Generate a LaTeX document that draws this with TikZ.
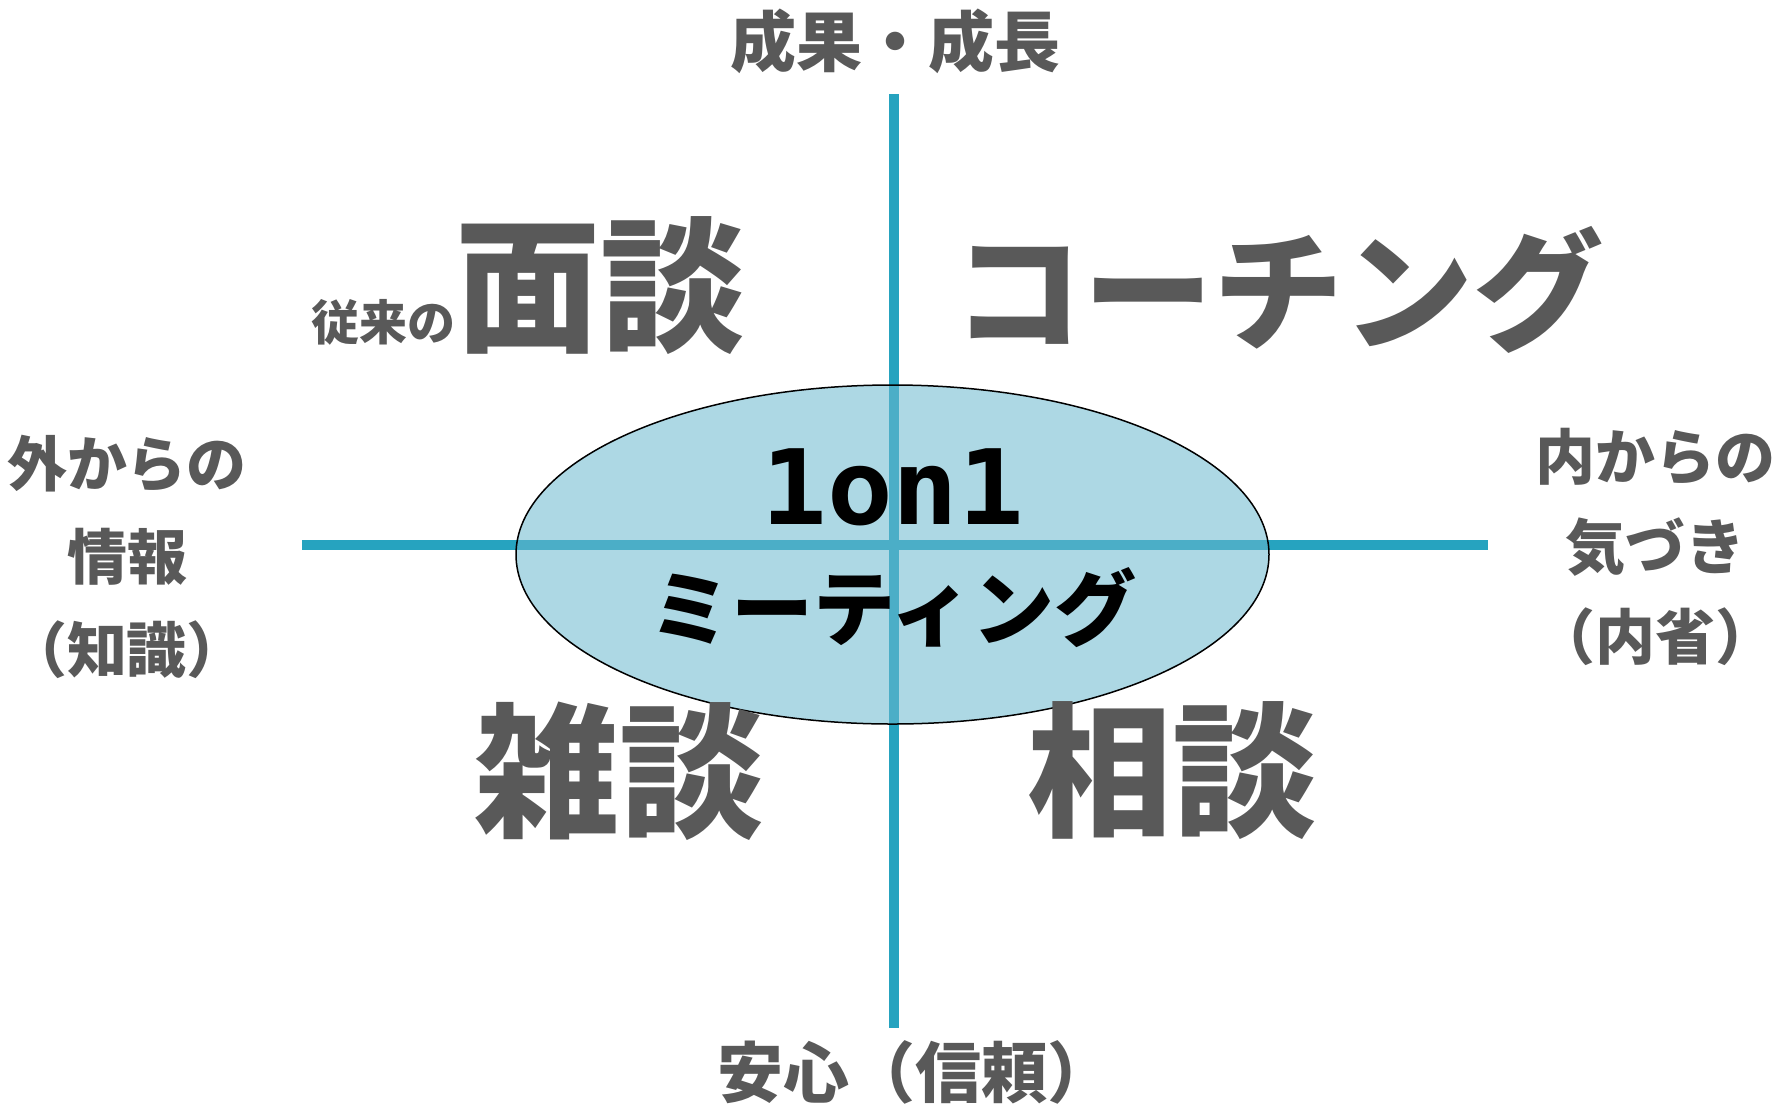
\documentclass[tikz,border=0pt]{standalone}
\usepackage{fontspec}
\usetikzlibrary{shapes.geometric}
\newfontfamily\jp{Noto Sans CJK JP}
\newfontfamily\monof{DejaVu Sans Mono}[FakeStretch=1.05]
\definecolor{txtgray}{RGB}{89,89,89}
\definecolor{axisblue}{RGB}{38,163,191}
\definecolor{ellfill}{RGB}{106,184,206}
\tikzset{
  lbl/.style={inner sep=0pt, text=txtgray},
  axisline/.style={draw=axisblue, line width=10pt},
}
\begin{document}
\begin{tikzpicture}[x=1pt,y=-1pt]
\useasboundingbox (0,0) rectangle (1791,1104);
% axes
\coordinate (top) at (894,94);
\coordinate (bot) at (894,1028);
\coordinate (lft) at (302,545);
\coordinate (rgt) at (1488,545);
\draw[axisline] (top) -- (bot);
\draw[axisline] (lft) -- (rgt);
% ellipse
\node[ellipse, minimum width=753pt, minimum height=339pt, inner sep=0pt,
      fill=ellfill, fill opacity=0.55, draw=black, line width=1.5pt] (ell) at (892.5,554.5) {};
% axis labels
\node[lbl, font={\jp\bfseries\fontsize{66}{70}\selectfont}] (ttop) at (895,41) {成果・成長};
\node[lbl, font={\jp\bfseries\fontsize{66}{70}\selectfont}] (tbot) at (915,1072) {安心（信頼）};
\node[lbl, align=center, font={\jp\bfseries\fontsize{60}{93}\selectfont}] (tleft) at (127,557) {外からの\\情報\\（知識）};
\node[lbl, align=center, font={\jp\bfseries\fontsize{60}{90}\selectfont}] (tright) at (1655,547) {内からの\\気づき\\（内省）};
% quadrant labels
\node[lbl, anchor=south west, font=\jp\bfseries] (q1) at (311,355) {{\fontsize{48}{50}\selectfont 従来の}{\fontsize{145}{145}\selectfont 面談}};
\node[lbl, font={\jp\bfseries\fontsize{130}{130}\selectfont}] (q2) at (1278,290) {コーチング};
\node[lbl, font={\jp\bfseries\fontsize{145}{145}\selectfont}] (q3) at (619,771) {雑談};
\node[lbl, font={\jp\bfseries\fontsize{145}{145}\selectfont}] (q4) at (1172,771) {相談};
% center
\node[inner sep=0pt, text=black, font={\monof\bfseries\fontsize{104}{104}\selectfont}] (c1) at (893,487) {1on1};
\node[inner sep=0pt, text=black, font={\jp\bfseries\fontsize{82}{82}\selectfont}] (c2) at (893,608) {ミーティング};
\end{tikzpicture}
\end{document}
